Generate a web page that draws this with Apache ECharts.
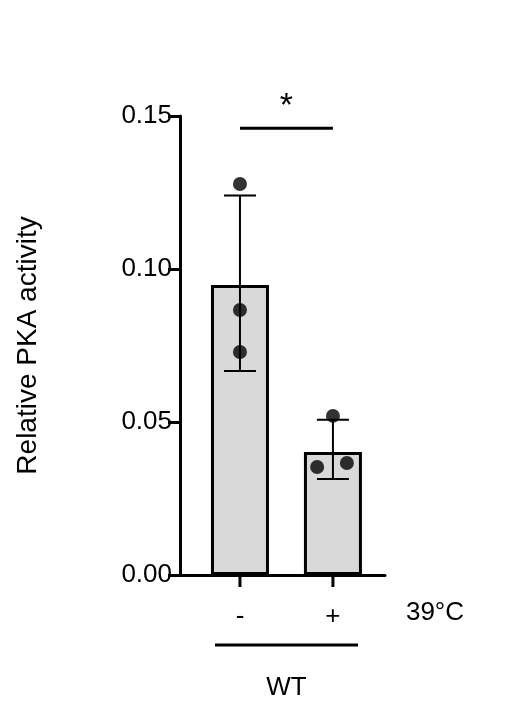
<!DOCTYPE html>
<html>
<head>
<meta charset="utf-8">
<script src="https://cdn.jsdelivr.net/npm/echarts@6/dist/echarts.min.js"></script>
<style>html,body{margin:0;background:#fff}#chart{width:512px;height:724px}</style>
</head>
<body>
<div id="chart"></div>
<script>
// WT, without / with 39°C
const groups = [1, 2];
const tickLabels = ['-', '+'];
const means = [0.0948, 0.0402];
const errLow = [0.0667, 0.0314];
const errHigh = [0.124, 0.0507];
const pointsX = [1, 1, 1, 2, 1.83, 2.15];
const pointsY = [0.1278, 0.0866, 0.0729, 0.052, 0.0353, 0.0366];
const sigY = 0.146;

const font = 'Liberation Sans, Arial, sans-serif';
const chart = echarts.init(document.getElementById('chart'));

chart.setOption({
    animation: false,
    grid: {left: 180, right: 127, top: 116, bottom: 149},
    xAxis: {
        type: 'value', min: 0.355, max: 2.56,
        axisLine: {lineStyle: {color: '#000', width: 3}},
        axisTick: {show: false}, axisLabel: {show: false}, splitLine: {show: false}
    },
    yAxis: {
        type: 'value', min: 0, max: 0.15, interval: 0.05,
        name: 'Relative PKA activity', nameLocation: 'middle', nameGap: 138,
        nameTextStyle: {fontFamily: font, fontSize: 28, color: '#000'},
        axisLine: {show: true, lineStyle: {color: '#000', width: 3}},
        axisTick: {show: true, length: 12, lineStyle: {color: '#000', width: 3}},
        axisLabel: {fontFamily: font, fontSize: 26, color: '#000', margin: 8,
            formatter: v => v.toFixed(2)},
        splitLine: {show: false}
    },
    series: [
        {
            type: 'bar', barWidth: 58,
            data: groups.map((g, i) => [g, means[i]]),
            itemStyle: {color: '#d9d9d9', borderColor: '#000', borderWidth: 3}
        },
        {
            type: 'custom',
            data: groups.map((g, i) => [g, errLow[i], errHigh[i]]),
            renderItem: function (params, api) {
                const lo = api.coord([api.value(0), api.value(1)]);
                const hi = api.coord([api.value(0), api.value(2)]);
                const w = 16;
                const s = {stroke: '#000', lineWidth: 2};
                return {type: 'group', children: [
                    {type: 'line', shape: {x1: lo[0], y1: lo[1], x2: hi[0], y2: hi[1]}, style: s},
                    {type: 'line', shape: {x1: hi[0] - w, y1: hi[1], x2: hi[0] + w, y2: hi[1]}, style: s},
                    {type: 'line', shape: {x1: lo[0] - w, y1: lo[1], x2: lo[0] + w, y2: lo[1]}, style: s}
                ]};
            },
            z: 3
        },
        {
            type: 'scatter', symbolSize: 14,
            data: pointsX.map((x, i) => [x, pointsY[i]]),
            itemStyle: {color: '#000'}, z: 4
        },
        {
            // significance bar, x labels, WT bracket
            type: 'custom', clip: false, data: [[0]],
            renderItem: function (params, api) {
                const a = api.coord([groups[0], sigY]);
                const b = api.coord([groups[1], sigY]);
                const base = api.coord([groups[0], 0])[1];
                const s = {stroke: '#000', lineWidth: 3};
                const txt = (x, y, t, size) => ({type: 'text', x: x, y: y,
                    style: {text: t, fontFamily: font, fontSize: size, fill: '#000', align: 'center', verticalAlign: 'middle'}});
                const children = [
                    {type: 'line', shape: {x1: a[0], y1: a[1], x2: b[0], y2: b[1]}, style: s},
                    txt((a[0] + b[0]) / 2, a[1] - 22, '*', 34),
                    txt(435, base + 38, '39°C', 26),
                    {type: 'line', shape: {x1: 215, y1: base + 70, x2: 358, y2: base + 70}, style: s},
                    txt((a[0] + b[0]) / 2, base + 113, 'WT', 26)
                ];
                groups.forEach((g, i) => {
                    const p = api.coord([g, 0]);
                    children.push({type: 'line', shape: {x1: p[0], y1: base, x2: p[0], y2: base + 12}, style: s});
                    children.push(txt(p[0], base + 42, tickLabels[i], 26));
                });
                return {type: 'group', children: children};
            }
        }
    ]
});
</script>
</body>
</html>
